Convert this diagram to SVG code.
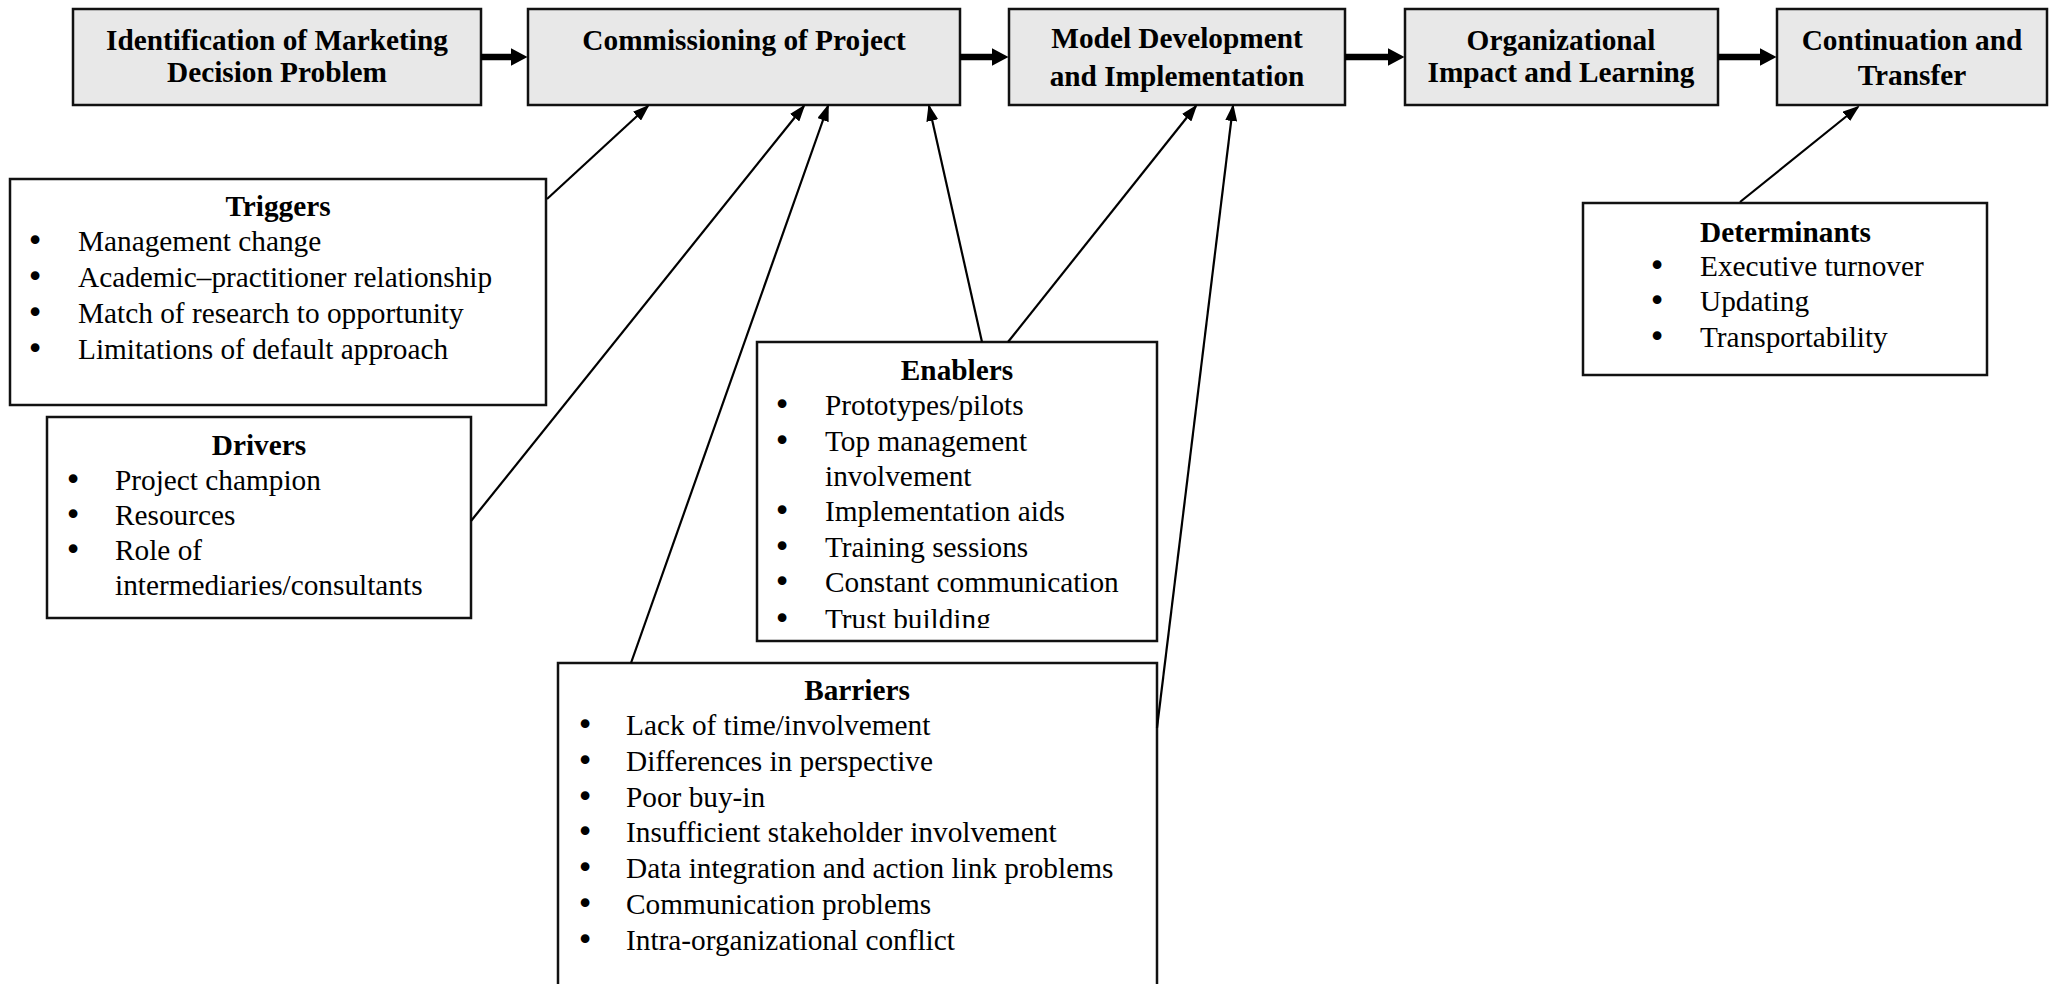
<svg xmlns="http://www.w3.org/2000/svg" width="2049" height="984" viewBox="0 0 2049 984">
  <style>
    .stage { fill: #e8e8e8; stroke: #111; stroke-width: 2.5; }
    .panel { fill: #fff; stroke: #111; stroke-width: 2.5; }
    .head { font-family: "Liberation Serif", "Times New Roman", serif; font-weight: bold; font-size: 29.3px; fill: #000; text-anchor: middle; }
    .title { font-family: "Liberation Serif", "Times New Roman", serif; font-weight: bold; font-size: 29.3px; fill: #000; }
    .item { font-family: "Liberation Serif", "Times New Roman", serif; font-size: 29.3px; fill: #000; }
    .dot { font-family: "DejaVu Sans", sans-serif; font-size: 30px; fill: #000; text-anchor: middle; }
    .flow { stroke: #000; stroke-width: 6.5; fill: none; marker-end: url(#bigHead); }
    .link { stroke: #000; stroke-width: 2.2; fill: none; marker-end: url(#smallHead); }
  </style>
  <defs>
    <marker id="bigHead" markerUnits="userSpaceOnUse" viewBox="0 0 17 18" markerWidth="17" markerHeight="18" refX="0.5" refY="9" orient="auto">
      <path d="M0,0 L17,9 L0,18 z" fill="#000"/>
    </marker>
    <marker id="smallHead" markerUnits="userSpaceOnUse" viewBox="0 0 17 12" markerWidth="17" markerHeight="12" refX="15" refY="6" orient="auto">
      <path d="M0,0 L17,6 L0,12 z" fill="#000"/>
    </marker>
    <clipPath id="enablersClip">
      <rect x="757" y="342" width="400" height="286"/>
    </clipPath>
  </defs>

  <rect width="2049" height="984" fill="#fff"/>

  <!-- process stages along the top -->
  <g id="stage-identification">
    <rect class="stage" x="73" y="9" width="408" height="96"/>
    <text class="head" x="277" y="50">Identification of Marketing</text>
    <text class="head" x="277" y="82">Decision Problem</text>
  </g>
  <g id="stage-commissioning">
    <rect class="stage" x="528" y="9" width="432" height="96"/>
    <text class="head" x="744" y="50">Commissioning of Project</text>
  </g>
  <g id="stage-model">
    <rect class="stage" x="1009" y="9" width="336" height="96"/>
    <text class="head" x="1177" y="48">Model Development</text>
    <text class="head" x="1177" y="86">and Implementation</text>
  </g>
  <g id="stage-impact">
    <rect class="stage" x="1405" y="9" width="313" height="96"/>
    <text class="head" x="1561" y="50">Organizational</text>
    <text class="head" x="1561" y="82">Impact and Learning</text>
  </g>
  <g id="stage-continuation">
    <rect class="stage" x="1777" y="9" width="270" height="96"/>
    <text class="head" x="1912" y="50">Continuation and</text>
    <text class="head" x="1912" y="85">Transfer</text>
  </g>

  <!-- factor panels -->
  <g id="triggers">
    <rect class="panel" x="10" y="179" width="536" height="226"/>
    <text class="title" x="278" y="216" text-anchor="middle">Triggers</text>
    <text class="dot" x="35" y="251">•</text><text class="item" x="78" y="251">Management change</text>
    <text class="dot" x="35" y="287">•</text><text class="item" x="78" y="287">Academic–practitioner relationship</text>
    <text class="dot" x="35" y="323">•</text><text class="item" x="78" y="323">Match of research to opportunity</text>
    <text class="dot" x="35" y="359">•</text><text class="item" x="78" y="359">Limitations of default approach</text>
  </g>

  <g id="drivers">
    <rect class="panel" x="47" y="417" width="424" height="201"/>
    <text class="title" x="259" y="455" text-anchor="middle">Drivers</text>
    <text class="dot" x="73" y="490">•</text><text class="item" x="115" y="490">Project champion</text>
    <text class="dot" x="73" y="525">•</text><text class="item" x="115" y="525">Resources</text>
    <text class="dot" x="73" y="560">•</text><text class="item" x="115" y="560">Role of</text>
    <text class="item" x="115" y="595">intermediaries/consultants</text>
  </g>

  <g id="enablers">
    <rect class="panel" x="757" y="342" width="400" height="299"/>
    <text class="title" x="957" y="380" text-anchor="middle">Enablers</text>
    <g clip-path="url(#enablersClip)">
      <text class="dot" x="782" y="415">•</text><text class="item" x="825" y="415">Prototypes/pilots</text>
      <text class="dot" x="782" y="451">•</text><text class="item" x="825" y="451">Top management</text>
      <text class="item" x="825" y="486">involvement</text>
      <text class="dot" x="782" y="521">•</text><text class="item" x="825" y="521">Implementation aids</text>
      <text class="dot" x="782" y="557">•</text><text class="item" x="825" y="557">Training sessions</text>
      <text class="dot" x="782" y="592">•</text><text class="item" x="825" y="592">Constant communication</text>
      <text class="dot" x="782" y="629">•</text><text class="item" x="825" y="629">Trust building</text>
    </g>
  </g>

  <g id="barriers">
    <path class="panel" d="M558,990 V663 H1157 V990"/>
    <text class="title" x="857" y="700" text-anchor="middle">Barriers</text>
    <text class="dot" x="585" y="735">•</text><text class="item" x="626" y="735">Lack of time/involvement</text>
    <text class="dot" x="585" y="771">•</text><text class="item" x="626" y="771">Differences in perspective</text>
    <text class="dot" x="585" y="807">•</text><text class="item" x="626" y="807">Poor buy-in</text>
    <text class="dot" x="585" y="842">•</text><text class="item" x="626" y="842">Insufficient stakeholder involvement</text>
    <text class="dot" x="585" y="878">•</text><text class="item" x="626" y="878">Data integration and action link problems</text>
    <text class="dot" x="585" y="914">•</text><text class="item" x="626" y="914">Communication problems</text>
    <text class="dot" x="585" y="950">•</text><text class="item" x="626" y="950">Intra-organizational conflict</text>
  </g>

  <g id="determinants">
    <rect class="panel" x="1583" y="203" width="404" height="172"/>
    <text class="title" x="1700" y="242">Determinants</text>
    <text class="dot" x="1657" y="276">•</text><text class="item" x="1700" y="276">Executive turnover</text>
    <text class="dot" x="1657" y="311">•</text><text class="item" x="1700" y="311">Updating</text>
    <text class="dot" x="1657" y="347">•</text><text class="item" x="1700" y="347">Transportability</text>
  </g>

  <!-- connectors -->
  <g id="connectors">
    <line class="flow" x1="481" y1="57" x2="511" y2="57"/>
    <line class="flow" x1="960" y1="57" x2="992" y2="57"/>
    <line class="flow" x1="1345" y1="57" x2="1388" y2="57"/>
    <line class="flow" x1="1718" y1="57" x2="1760" y2="57"/>

    <line class="link" x1="547" y1="199" x2="648" y2="106"/>
    <line class="link" x1="471" y1="521" x2="804" y2="106"/>
    <line class="link" x1="631" y1="663" x2="828" y2="106"/>
    <line class="link" x1="982" y1="342" x2="929" y2="106"/>
    <line class="link" x1="1008" y1="342" x2="1196" y2="106"/>
    <line class="link" x1="1157" y1="728" x2="1233" y2="106"/>
    <line class="link" x1="1740" y1="202" x2="1858" y2="107"/>
  </g>
</svg>
